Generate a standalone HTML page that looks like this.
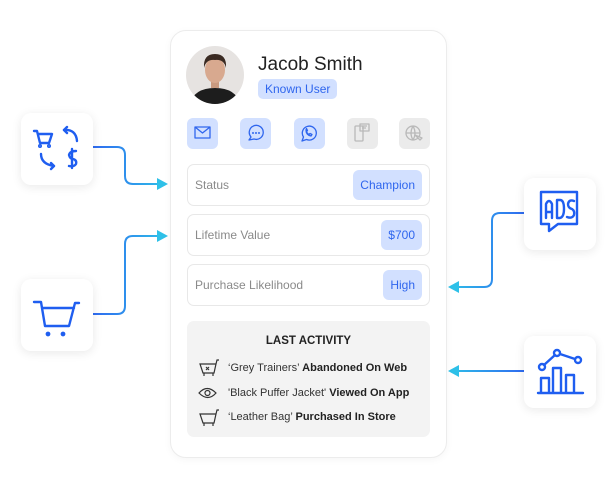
<!DOCTYPE html>
<html><head><meta charset="utf-8"><style>
*{margin:0;padding:0;box-sizing:border-box}
body{width:616px;height:485px;background:#fff;position:relative;overflow:hidden;font-family:"Liberation Sans",Arial,sans-serif}
.abs{position:absolute}
.card{left:170px;top:30px;width:277px;height:428px;border:1px solid #ececec;border-radius:16px;background:#fff;box-shadow:0 2px 8px rgba(0,0,0,0.04)}
.side{width:72px;height:72px;border-radius:10px;background:#fff;box-shadow:0 2px 10px rgba(0,0,0,0.09)}
.ib{top:118px;width:31px;height:31px;border-radius:6px;background:#d2e0ff}
.ib.g{background:#ebebeb}
.row{left:187px;width:243px;height:42px;border:1px solid #e8e8e8;border-radius:7px}
.row span.l{position:absolute;left:7px;top:13px;font-size:12px;color:#8a8a8a}
.bd{position:absolute;top:5px;right:7px;height:30px;border-radius:6px;background:#d2e0ff;color:#2f66ee;font-size:12px;line-height:30px;padding:0 7px}
.act{left:187px;top:321px;width:243px;height:116px;background:#f3f3f3;border-radius:7px}
.t{position:absolute;left:41px;font-size:11px;color:#333;white-space:nowrap}
.t b{color:#222}
</style></head><body>
<svg class="abs" style="left:0;top:0" width="616" height="485">
<defs>
<linearGradient id="g1" gradientUnits="userSpaceOnUse" x1="93" x2="168" y1="0" y2="0"><stop offset="0" stop-color="#2f6bf0"/><stop offset="1" stop-color="#2ec0e8"/></linearGradient>
<linearGradient id="g2" gradientUnits="userSpaceOnUse" x1="524" x2="448" y1="0" y2="0"><stop offset="0" stop-color="#2f6bf0"/><stop offset="1" stop-color="#2ec0e8"/></linearGradient>
</defs>
<g fill="none" stroke-width="2">
<path d="M93 147 H117 Q125 147 125 155 V176 Q125 184 133 184 H160" stroke="url(#g1)"/>
<path d="M93 314 H117 Q125 314 125 306 V244 Q125 236 133 236 H160" stroke="url(#g1)"/>
<path d="M524 213 H500 Q492 213 492 221 V279 Q492 287 484 287 H456" stroke="url(#g2)"/>
<path d="M524 371 H456" stroke="url(#g2)"/>
</g>
<g fill="#2ec0e8">
<polygon points="168,184 157,178 157,190"/>
<polygon points="168,236 157,230 157,242"/>
<polygon points="448,287 459,281 459,293"/>
<polygon points="448,371 459,365 459,377"/>
</g>
</svg>
<div class="abs side" style="left:21px;top:113px"></div>
<div class="abs side" style="left:21px;top:279px"></div>
<div class="abs side" style="left:524px;top:178px"></div>
<div class="abs side" style="left:524px;top:336px"></div>
<svg class="abs" style="left:0;top:0" width="616" height="485"><g fill="none" stroke="#1f5ef0" stroke-width="2.4" stroke-linecap="round" stroke-linejoin="round">
<path d="M34 131 H37 L40 143 H49 L52 134 H38"/><circle cx="40" cy="146" r="0.8"/><circle cx="49" cy="146" r="0.8"/>
<path d="M64 130 Q76 129 77 141"/><path d="M64 130 l3 -3 M64 130 l3 3"/>
<path d="M41 154 Q41 164 54 166"/><path d="M54 166 l-3 -3 M54 166 l-3 3"/>
<path d="M76 151 Q70 151 69 155 Q70 159 73 159 Q77 160 76 164 Q74 167 69 166 M72 149 V168"/>
<path d="M34 302 H41 L45 326 H69 L75 303 H79 M42 308 H74"/><circle cx="48" cy="334" r="1.2" fill="#1f5ef0"/><circle cx="63" cy="334" r="1.2" fill="#1f5ef0"/>
<path d="M541 192 H577 V224 H558 L549 231 V224 H541 Z"/>
<path d="M546 218 V204 Q549 198 552 204 V218 M546 212 H552 M557 200 V218 H560 Q564 217 564 209 Q564 200 560 200 Z M574 201 Q569 199 568 204 Q568 208 572 209 Q575 211 574 215 Q572 219 567 217"/>
<path d="M538 393 H583 M541 392 V378 H549 V392 M553 392 V368 H561 V392 M566 392 V375 H574 V392"/>
<circle cx="542" cy="367" r="3"/><circle cx="557" cy="353" r="3"/><circle cx="578" cy="360" r="3"/><path d="M544 365 L555 355 M560 354 L575 359"/>
</g></svg>
<div class="abs card"></div>
<svg class="abs" style="left:186px;top:46px" width="58" height="58"><defs><clipPath id="c"><circle cx="29" cy="29" r="29"/></clipPath></defs><g clip-path="url(#c)"><rect width="58" height="58" fill="#e6e3e1"/><path d="M4 58 Q8 42 29 42 Q50 42 54 58 Z" fill="#1d1d1d"/><rect x="25" y="32" width="8" height="10" fill="#c99a80"/><ellipse cx="29" cy="24" rx="10" ry="13" fill="#d8a98f"/><path d="M18 22 Q17 8 29 8 Q41 8 40 22 Q38 13 29 14 Q20 13 18 22Z" fill="#3a2a22"/></g></svg>
<div class="abs" style="left:258px;top:54px;font-size:19px;color:#222">Jacob Smith</div>
<div class="abs" style="left:258px;top:79px;height:20px;padding:0 7px;background:#d2e0ff;border-radius:5px;color:#2f66ee;font-size:12px;line-height:20px">Known User</div>
<div class="abs ib" style="left:187px"></div><div class="abs ib" style="left:240px"></div><div class="abs ib" style="left:294px"></div><div class="abs ib g" style="left:347px"></div><div class="abs ib g" style="left:399px"></div>
<svg class="abs" style="left:0;top:0" width="616" height="485"><g fill="none" stroke-width="1.3" stroke-linejoin="round">
<g stroke="#2f66ee"><rect x="195" y="127" width="15" height="11"/><path d="M195 127 L202.5 133 L210 127"/>
<path d="M249 140 l2-3 a7 7 0 1 1 3 2 z"/><circle cx="253" cy="133" r="0.4"/><circle cx="256" cy="133" r="0.4"/><circle cx="259" cy="133" r="0.4"/>
<path d="M302 141 l1.5-4 a7 7 0 1 1 3 2.5 z"/><path d="M306 130 q0 5 5 6 l1-1.5 -2-1 -1 1 q-2-1-2.5-3 l1-1 -1-2z"/></g>
<g stroke="#b9b9b9"><rect x="355" y="126" width="8" height="15" rx="1"/><rect x="360" y="124" width="9" height="7"/><path d="M362 126 h5 M362 128 h4"/>
<circle cx="413" cy="133" r="7"/><path d="M406 133 h14 M413 126 q-4 7 0 14 q4-7 0-14"/><path d="M415 135 l5 5 2-2z" fill="#ebebeb"/></g>
</g></svg>
<div class="abs row" style="top:164px"><span class="l">Status</span><span class="bd">Champion</span></div>
<div class="abs row" style="top:214px"><span class="l">Lifetime Value</span><span class="bd">$700</span></div>
<div class="abs row" style="top:264px"><span class="l">Purchase Likelihood</span><span class="bd">High</span></div>
<div class="abs act">
<div style="position:absolute;left:0;width:100%;top:14px;text-align:center;font-size:11.5px;font-weight:bold;color:#222">LAST ACTIVITY</div>
<div class="t" style="top:41px">‘Grey Trainers’ <b>Abandoned On Web</b></div>
<div class="t" style="top:66px">'Black Puffer Jacket' <b>Viewed On App</b></div>
<div class="t" style="top:90px">‘Leather Bag’ <b>Purchased In Store</b></div>
<svg style="position:absolute;left:0;top:0" width="243" height="116"><g fill="none" stroke="#333" stroke-width="1.2">
<path d="M13 43 H29 L27 52 H16 Z M29 43 l1-4 h2 M17 52 v3 M26 52 v3"/><path d="M19 46 l3 3 M22 46 l-3 3"/>
<path d="M12 72 q8-9 17 0 q-8 9-17 0z"/><circle cx="20.5" cy="72" r="2.5"/>
<path d="M13 93 H29 L27 102 H16 Z M29 93 l1-4 h2 M17 102 v3 M26 102 v3"/>
</g></svg>
</div>
</body></html>
